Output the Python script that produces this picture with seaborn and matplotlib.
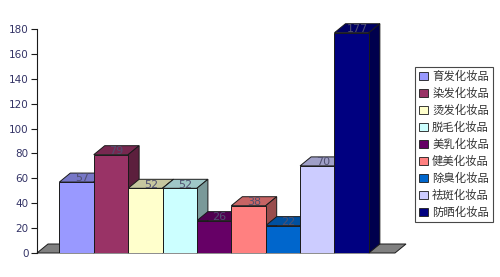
import numpy as np
import pandas as pd
import matplotlib
matplotlib.use("Agg")
import matplotlib.pyplot as plt
import seaborn as sns
from matplotlib.patches import Polygon, Patch
from matplotlib.colors import to_rgb

categories = ["育发化妆品", "染发化妆品", "烫发化妆品", "脱毛化妆品", "美乳化妆品",
              "健美化妆品", "除臭化妆品", "祛斑化妆品", "防晒化妆品"]
values = [57, 79, 52, 52, 26, 38, 22, 70, 177]
colors = ["#9999FF", "#993366", "#FFFFCC", "#CCFFFF", "#660066",
          "#FF8080", "#0066CC", "#CCCCFF", "#000080"]
yticks = [0, 20, 40, 60, 80, 100, 120, 140, 160, 180]

sns.set_style("white")
plt.rcParams['font.family'] = ['Noto Sans CJK SC', 'DejaVu Sans']

fig = plt.figure(figsize=(5.0, 2.77), dpi=100)
W, H = 500, 277
ax = fig.add_axes([37 / W, (H - 253) / H, (395 - 37) / W, (253 - 29) / H])

df = pd.DataFrame({"cat": categories, "val": values})
sns.barplot(data=df, x="cat", y="val", hue="cat", palette=colors, width=1.0,
            legend=False, ax=ax, edgecolor="#1a1a1a", linewidth=0.7, zorder=3,
            saturation=1)

xl = (-1.15, 9.26)
ax.set_xlim(*xl)
ax.set_ylim(0, 180)
px_per_x = (395 - 37) / (xl[1] - xl[0])
px_per_y = (253 - 29) / 180
dx = 11 / px_per_x
dy = 9 / px_per_y

def shade(c, f):
    r, g, b = to_rgb(c)
    return (r * f, g * f, b * f)

# floor
floor = Polygon([(xl[0], 0), (xl[1], 0), (xl[1] + dx, dy), (xl[0] + dx, dy)],
                closed=True, facecolor="#808080", edgecolor="#1a1a1a",
                linewidth=0.7, zorder=1, clip_on=False)
ax.add_patch(floor)

for p, c, v in zip(ax.patches[:len(values)], colors, values):
    x0, w, h = p.get_x(), p.get_width(), p.get_height()
    top = Polygon([(x0, h), (x0 + w, h), (x0 + w + dx, h + dy), (x0 + dx, h + dy)],
                  closed=True, facecolor=shade(c, 0.78), edgecolor="#1a1a1a",
                  linewidth=0.7, zorder=2, clip_on=False)
    side = Polygon([(x0 + w, 0), (x0 + w + dx, dy), (x0 + w + dx, h + dy), (x0 + w, h)],
                   closed=True, facecolor=shade(c, 0.6), edgecolor="#1a1a1a",
                   linewidth=0.7, zorder=2, clip_on=False)
    ax.add_patch(top)
    ax.add_patch(side)
    ax.text(x0 + w / 2 + dx / 2, h - 1.0, f"{v}", ha="center", va="bottom",
            fontsize=8, color="#505070", family="DejaVu Sans", zorder=2.5,
            clip_on=False)

ax.set_yticks(yticks)
ax.set_yticklabels([str(t) for t in yticks], family="DejaVu Sans",
                   fontsize=7.5, color="#333366")
ax.tick_params(axis="y", left=True, length=4, width=0.8, color="#1a1a1a", pad=2)
ax.set_xticks([])
ax.set_xlabel("")
ax.set_ylabel("")
for s in ["top", "right", "bottom"]:
    ax.spines[s].set_visible(False)
ax.spines["left"].set_color("#1a1a1a")
ax.spines["left"].set_linewidth(0.8)
ax.set_facecolor("none")

handles = [Patch(facecolor=c, edgecolor="#1a1a1a", linewidth=0.6) for c in colors]
leg = fig.legend(handles, categories, loc="upper left",
                 bbox_to_anchor=(415 / W, 1 - 67 / H), frameon=True,
                 fancybox=False, fontsize=8.2, handlelength=0.75, handleheight=0.75,
                 handletextpad=0.4, labelspacing=0.5, borderpad=0.35,
                 borderaxespad=0)
leg.get_frame().set_edgecolor("#1a1a1a")
leg.get_frame().set_linewidth(0.8)
for t in leg.get_texts():
    t.set_color("#333333")

fig.savefig("out.png", dpi=100)
